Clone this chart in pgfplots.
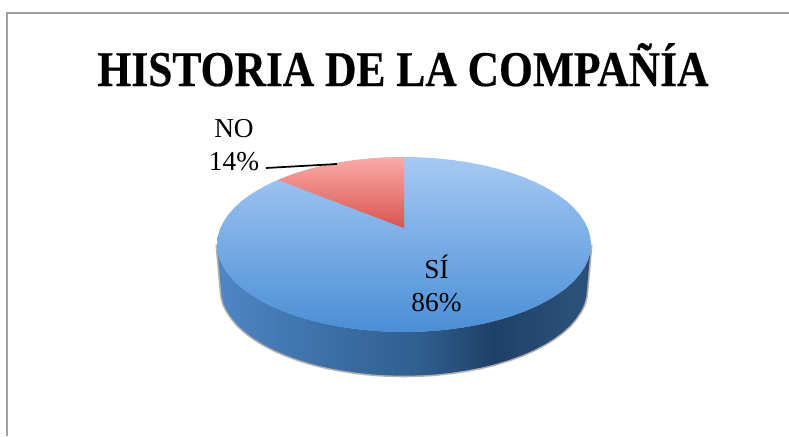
\documentclass[border=0pt]{standalone}
\usepackage{fontspec}
\setmainfont{Liberation Serif}
\newfontfamily\titlefont[FakeStretch=0.87,FakeBold=0.4]{Liberation Serif}
\usepackage{pgfplots}
\usepackage{pgfplotstable}
\pgfplotsset{compat=1.18}

% slice share in percent: SI 86, NO 14. All outlines are in picture pixels.
\pgfplotstableread{
x y
591 244.5
590.3 236.9
588.2 229.3
584.6 221.9
579.7 214.6
573.5 207.5
565.9 200.7
557.2 194.3
547.3 188.3
536.2 182.6
524.2 177.5
511.3 172.8
497.5 168.7
483 165.2
468 162.3
452.4 160
436.5 158.3
420.3 157.3
404 157
387.7 157.3
371.5 158.3
355.6 160
340 162.3
325 165.2
310.5 168.7
296.7 172.8
283.8 177.5
271.8 182.6
260.7 188.3
250.8 194.3
242.1 200.7
234.5 207.5
228.3 214.6
223.4 221.9
219.8 229.3
217.7 236.9
217 244.5
217.7 252.1
219.8 259.7
223.4 267.1
228.3 274.4
234.5 281.5
242.1 288.3
250.8 294.7
260.7 300.7
271.8 306.4
283.8 311.5
296.7 316.2
310.5 320.3
325 323.8
340 326.7
355.6 329
371.5 330.7
387.7 331.7
404 332
420.3 331.7
436.5 330.7
452.4 329
468 326.7
483 323.8
497.5 320.3
511.3 316.2
524.2 311.5
536.2 306.4
547.3 300.7
557.2 294.7
565.9 288.3
573.5 281.5
579.7 274.4
584.6 267.1
588.2 259.7
590.3 252.1
}\topface

\pgfplotstableread{
x y
404 157
387.7 157.3
371.5 158.3
355.6 160
340 162.3
325 165.2
310.5 168.7
296.7 172.8
283.8 177.5
278 180
404 228
}\noslice

\pgfplotstableread{
x y
217 244.5
217.7 252.1
219.8 259.7
223.4 267.1
228.3 274.4
234.5 281.5
242.1 288.3
250.8 294.7
260.7 300.7
271.8 306.4
283.8 311.5
296.7 316.2
310.5 320.3
325 323.8
340 326.7
355.6 329
371.5 330.7
387.7 331.7
404 332
420.3 331.7
436.5 330.7
452.4 329
468 326.7
483 323.8
497.5 320.3
511.3 316.2
524.2 311.5
536.2 306.4
547.3 300.7
557.2 294.7
565.9 288.3
573.5 281.5
579.7 274.4
584.6 267.1
588.2 259.7
590.3 252.1
591 244.5
587 289
586.3 296.5
584.3 304.1
580.7 311.4
575.9 318.6
569.9 325.7
562.4 332.4
553.9 338.7
544.2 344.7
533.4 350.3
521.6 355.4
509 360
495.5 364.1
481.3 367.6
466.6 370.4
451.4 372.7
435.8 374.4
420 375.4
404 375.7
388 375.4
372.2 374.4
356.6 372.7
341.4 370.4
326.7 367.6
312.5 364.1
299 360
286.4 355.4
274.6 350.3
263.8 344.7
254.1 338.7
245.6 332.4
238.1 325.7
232.1 318.6
227.3 311.4
223.7 304.1
221.7 296.5
221 289
}\wall

\definecolor{frameg}{HTML}{A0A0A0}
\definecolor{shadowg}{HTML}{B5B1AA}
\definecolor{topblue}{HTML}{A6C9F4}
\definecolor{lowblue}{HTML}{4A8ED6}
\definecolor{topred}{HTML}{FAABA8}
\definecolor{lowred}{HTML}{D9544F}
\definecolor{walla}{HTML}{4F86C6}
\definecolor{wallb}{HTML}{3C6FA5}
\definecolor{wallc}{HTML}{2F5F8F}
\definecolor{walld}{HTML}{1F4068}
\definecolor{walle}{HTML}{2A4F79}
\pgfdeclarehorizontalshading{wallshade}{100bp}{
  color(0bp)=(walla);
  color(25bp)=(walla);
  color(40bp)=(wallb);
  color(52bp)=(wallc);
  color(62bp)=(walld);
  color(72bp)=(walle);
  color(100bp)=(walle)}

\begin{document}
\begin{tikzpicture}
\begin{axis}[
    scale only axis,
    width=591.75pt,
    height=327pt,
    xmin=0, xmax=789,
    ymin=0, ymax=436,
    y dir=reverse,
    axis lines=none,
]
    % hidden axis adds nothing to the bounding box by itself
    \path (axis cs:0,0) rectangle (axis cs:789,436);

    % chart frame, only top and left edges show
    \addplot[frameg, line width=1pt, mark=none] coordinates {(7,436) (7,13) (789,13)};

    \addplot[shadowg, line width=2.4pt, mark=none] table {\wall} -- cycle;
    \addplot[draw=none, shading=wallshade, mark=none] table {\wall} -- cycle;
    \addplot[draw=none, top color=topblue, bottom color=lowblue, mark=none] table {\topface} -- cycle;
    \addplot[draw=none, top color=topred, bottom color=lowred, mark=none] table {\noslice} -- cycle;

    % leader line of the NO label
    \addplot[black, line width=1.3pt, mark=none] coordinates {(266,168) (337,164)};

    \node[anchor=base, font=\fontsize{37.5}{40}\titlefont\bfseries] at (axis cs:403,86) {HISTORIA DE LA COMPAÑÍA};
    \node[anchor=base, font=\fontsize{20.5}{22}\selectfont] at (axis cs:234,137) {NO};
    \node[anchor=base, font=\fontsize{20.5}{22}\selectfont] at (axis cs:234,170) {14\%};
    \node[anchor=base, font=\fontsize{20.5}{22}\selectfont] at (axis cs:436.5,278) {SÍ};
    \node[anchor=base, font=\fontsize{20.5}{22}\selectfont] at (axis cs:436.5,311) {86\%};
\end{axis}
\end{tikzpicture}
\end{document}
